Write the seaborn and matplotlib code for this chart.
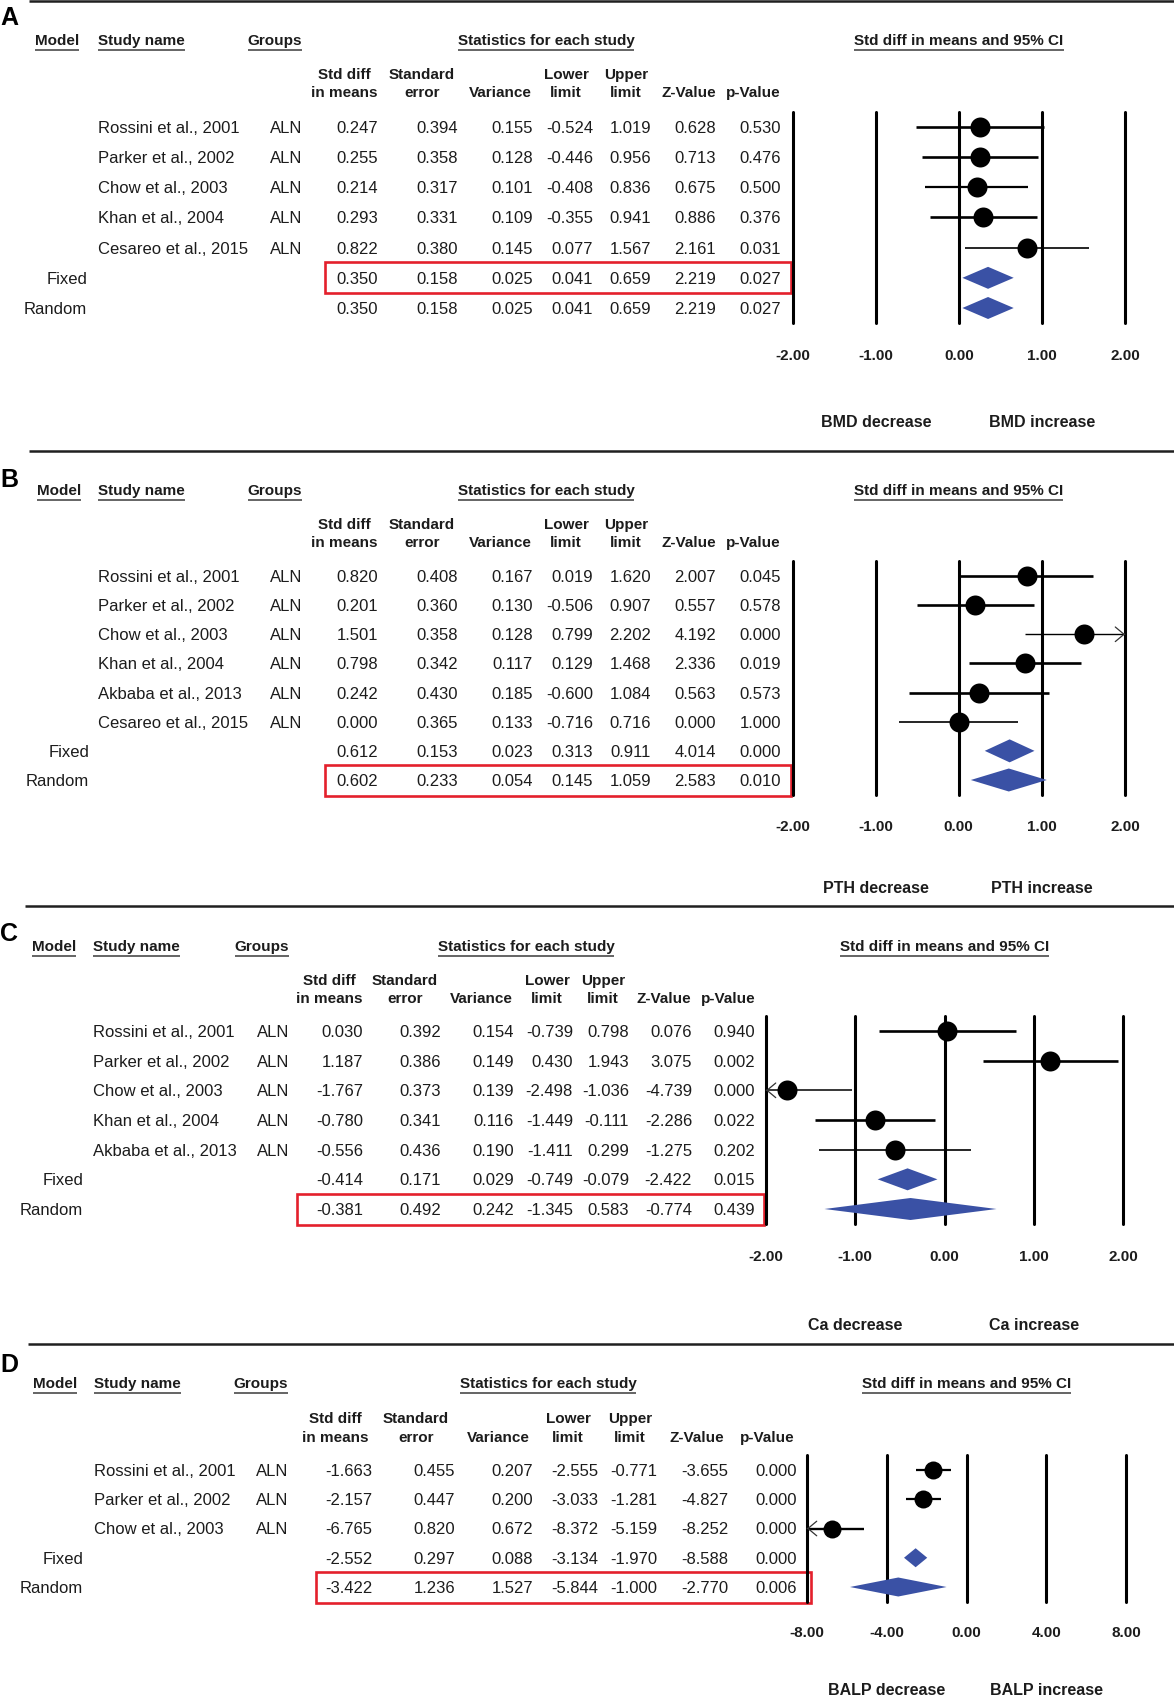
import numpy as np
import pandas as pd
import matplotlib
matplotlib.use("Agg")
import matplotlib.pyplot as plt
import matplotlib.transforms as mtransforms
from matplotlib.patches import Rectangle
import seaborn as sns

# ---------------------------------------------------------------- data
COLUMNS = ["Std diff\nin means", "Standard\nerror", "Variance", "Lower\nlimit",
           "Upper\nlimit", "Z-Value", "p-Value"]
MODELS = ["Fixed", "Random"]

# rows: studies first, then Fixed, Random
A_study = ["Rossini et al., 2001", "Parker et al., 2002", "Chow et al., 2003",
           "Khan et al., 2004", "Cesareo et al., 2015"]
A_group = ["ALN", "ALN", "ALN", "ALN", "ALN"]
A_std_diff = [0.247, 0.255, 0.214, 0.293, 0.822, 0.350, 0.350]
A_std_err = [0.394, 0.358, 0.317, 0.331, 0.380, 0.158, 0.158]
A_variance = [0.155, 0.128, 0.101, 0.109, 0.145, 0.025, 0.025]
A_lower = [-0.524, -0.446, -0.408, -0.355, 0.077, 0.041, 0.041]
A_upper = [1.019, 0.956, 0.836, 0.941, 1.567, 0.659, 0.659]
A_z = [0.628, 0.713, 0.675, 0.886, 2.161, 2.219, 2.219]
A_p = [0.530, 0.476, 0.500, 0.376, 0.031, 0.027, 0.027]
A_ticks = [-2, -1, 0, 1, 2]
A_outcome = "BMD"
A_highlight = "Fixed"

B_study = ["Rossini et al., 2001", "Parker et al., 2002", "Chow et al., 2003",
           "Khan et al., 2004", "Akbaba et al., 2013", "Cesareo et al., 2015"]
B_group = ["ALN", "ALN", "ALN", "ALN", "ALN", "ALN"]
B_std_diff = [0.820, 0.201, 1.501, 0.798, 0.242, 0.000, 0.612, 0.602]
B_std_err = [0.408, 0.360, 0.358, 0.342, 0.430, 0.365, 0.153, 0.233]
B_variance = [0.167, 0.130, 0.128, 0.117, 0.185, 0.133, 0.023, 0.054]
B_lower = [0.019, -0.506, 0.799, 0.129, -0.600, -0.716, 0.313, 0.145]
B_upper = [1.620, 0.907, 2.202, 1.468, 1.084, 0.716, 0.911, 1.059]
B_z = [2.007, 0.557, 4.192, 2.336, 0.563, 0.000, 4.014, 2.583]
B_p = [0.045, 0.578, 0.000, 0.019, 0.573, 1.000, 0.000, 0.010]
B_ticks = [-2, -1, 0, 1, 2]
B_outcome = "PTH"
B_highlight = "Random"

C_study = ["Rossini et al., 2001", "Parker et al., 2002", "Chow et al., 2003",
           "Khan et al., 2004", "Akbaba et al., 2013"]
C_group = ["ALN", "ALN", "ALN", "ALN", "ALN"]
C_std_diff = [0.030, 1.187, -1.767, -0.780, -0.556, -0.414, -0.381]
C_std_err = [0.392, 0.386, 0.373, 0.341, 0.436, 0.171, 0.492]
C_variance = [0.154, 0.149, 0.139, 0.116, 0.190, 0.029, 0.242]
C_lower = [-0.739, 0.430, -2.498, -1.449, -1.411, -0.749, -1.345]
C_upper = [0.798, 1.943, -1.036, -0.111, 0.299, -0.079, 0.583]
C_z = [0.076, 3.075, -4.739, -2.286, -1.275, -2.422, -0.774]
C_p = [0.940, 0.002, 0.000, 0.022, 0.202, 0.015, 0.439]
C_ticks = [-2, -1, 0, 1, 2]
C_outcome = "Ca"
C_highlight = "Random"

D_study = ["Rossini et al., 2001", "Parker et al., 2002", "Chow et al., 2003"]
D_group = ["ALN", "ALN", "ALN"]
D_std_diff = [-1.663, -2.157, -6.765, -2.552, -3.422]
D_std_err = [0.455, 0.447, 0.820, 0.297, 1.236]
D_variance = [0.207, 0.200, 0.672, 0.088, 1.527]
D_lower = [-2.555, -3.033, -8.372, -3.134, -5.844]
D_upper = [-0.771, -1.281, -5.159, -1.970, -1.000]
D_z = [-3.655, -4.827, -8.252, -8.588, -2.770]
D_p = [0.000, 0.000, 0.000, 0.000, 0.006]
D_ticks = [-8, -4, 0, 4, 8]
D_outcome = "BALP"
D_highlight = "Random"

PANELS = {
    "A": dict(study=A_study, group=A_group, cols=[A_std_diff, A_std_err, A_variance, A_lower, A_upper, A_z, A_p],
              ticks=A_ticks, outcome=A_outcome, highlight=A_highlight),
    "B": dict(study=B_study, group=B_group, cols=[B_std_diff, B_std_err, B_variance, B_lower, B_upper, B_z, B_p],
              ticks=B_ticks, outcome=B_outcome, highlight=B_highlight),
    "C": dict(study=C_study, group=C_group, cols=[C_std_diff, C_std_err, C_variance, C_lower, C_upper, C_z, C_p],
              ticks=C_ticks, outcome=C_outcome, highlight=C_highlight),
    "D": dict(study=D_study, group=D_group, cols=[D_std_diff, D_std_err, D_variance, D_lower, D_upper, D_z, D_p],
              ticks=D_ticks, outcome=D_outcome, highlight=D_highlight),
}

# ---------------------------------------------------------------- layout (pixels) & style
AB_right = [378, 458, 533, 593, 651, 716, 781]
AB_head = [344, 422, 500, 566, 626, 689, 753]
LAYOUT = {
    "A": dict(sep=1.3, sep_x=29, letter=16, head=40, coly=(74, 92), row0=127, rowN=308,
              fx=(793, 1125), model=57, studyx=98, groupx=302, stats=546, sumx=87,
              right=AB_right, hcent=AB_head, box=(325, 791), ticky=354, outy=421,
              ci_lw=[1.9, 1.9, 1.6, 1.9, 1.2], dot=20, dia=11),
    "B": dict(sep=450.7, sep_x=29, letter=478, head=490, coly=(524, 542), row0=576, rowN=780,
              fx=(792.5, 1125), model=59, studyx=98, groupx=302, stats=546, sumx=89,
              right=AB_right, hcent=AB_head, box=(325, 791), ticky=825, outy=887,
              ci_lw=[1.9, 1.9, 1.0, 1.9, 1.9, 1.2], dot=20, dia=11.5),
    "C": dict(sep=906, sep_x=25, letter=932, head=946, coly=(980, 998), row0=1031, rowN=1209,
              fx=(766, 1123), model=54, studyx=93, groupx=289, stats=526, sumx=83,
              right=[363, 441, 514, 573, 629, 692, 755], hcent=[329, 405, 481, 547, 603, 664, 728],
              box=(297, 764), ticky=1255, outy=1324,
              ci_lw=[1.9, 1.9, 1.1, 1.9, 1.2], dot=20, dia=11),
    "D": dict(sep=1343.7, sep_x=28, letter=1363, head=1383, coly=(1418, 1437), row0=1470, rowN=1587,
              fx=(807, 1126), model=55, studyx=94, groupx=288, stats=548, sumx=83,
              right=[372, 455, 533, 598, 657, 728, 797], hcent=[335, 416, 498, 568, 630, 697, 767],
              box=(316, 811), ticky=1631, outy=1689,
              ci_lw=[1.6, 1.6, 1.7], dot=18, dia=9.5),
}

TXT = "#1c1c1c"
BLUE = "#3a51a5"
RED = "#e4202c"

sns.set_theme(style="white")
plt.rcParams["font.family"] = ["Liberation Sans", "DejaVu Sans"]

W, H = 1174, 1696
fig = plt.figure(figsize=(W / 100, H / 100), dpi=100)
fig.patch.set_facecolor("white")
tab = fig.add_axes([0, 0, 1, 1])
tab.set_xlim(0, W)
tab.set_ylim(H, 0)
tab.axis("off")
tab.patch.set_alpha(0)


def pxs(pt):
    return pt * 100 / 72


def txt(x, yc, s, size=12, weight="normal", ha="left", color=TXT, transform=None):
    yb = yc + 0.358 * pxs(size)
    kw = {}
    if transform is not None:
        kw["transform"] = transform
    return tab.text(x, yb, s, fontsize=size, fontweight=weight, ha=ha, va="baseline",
                    color=color, **kw)


underlined = []

for key, P in PANELS.items():
    L = LAYOUT[key]
    n_st = len(P["study"])
    n = n_st + len(MODELS)
    ys = np.linspace(L["row0"], L["rowN"], n)
    sp = (L["rowN"] - L["row0"]) / (n - 1)

    # separator + letter
    tab.plot([L["sep_x"], W], [L["sep"], L["sep"]], color="#202020", lw=1.8, solid_capstyle="butt")
    txt(0, L["letter"], key, size=18, weight="bold", color="black")

    # headers
    underlined.append(txt(L["model"], L["head"], "Model", 11, "bold", "center"))
    underlined.append(txt(L["studyx"], L["head"], "Study name", 11, "bold", "left"))
    underlined.append(txt(L["groupx"], L["head"], "Groups", 11, "bold", "right"))
    underlined.append(txt(L["stats"], L["head"], "Statistics for each study", 11, "bold", "center"))
    for c, name in enumerate(COLUMNS):
        parts = name.split("\n")
        if len(parts) == 2:
            txt(L["hcent"][c], L["coly"][0], parts[0], 11, "bold", "center")
            txt(L["hcent"][c], L["coly"][1], parts[1], 11, "bold", "center")
        else:
            txt(L["hcent"][c], L["coly"][1], parts[0], 11, "bold", "center")

    # table rows
    for i in range(n):
        if i < n_st:
            txt(L["studyx"], ys[i], P["study"][i], 12, "normal", "left")
            txt(L["groupx"], ys[i], P["group"][i], 12, "normal", "right")
        else:
            txt(L["sumx"], ys[i], MODELS[i - n_st], 12, "normal", "right")
        for c in range(len(COLUMNS)):
            txt(L["right"][c], ys[i], f"{P['cols'][c][i]:.3f}", 12, "normal", "right")

    # highlight box
    k = n_st + MODELS.index(P["highlight"])
    bx0, bx1 = L["box"]
    tab.add_patch(Rectangle((bx0, ys[k] - 15.5), bx1 - bx0, 31, fill=False, ec=RED, lw=1.9))

    # forest axes
    top = L["row0"] - sp / 2
    bot = L["rowN"] + sp / 2
    x0, x1 = L["fx"]
    ax = fig.add_axes([x0 / W, 1 - bot / H, (x1 - x0) / W, (bot - top) / H])
    ax.patch.set_alpha(0)
    est = P["cols"][0]
    lower = P["cols"][3]
    upper = P["cols"][4]
    df = pd.DataFrame({"est": est[:n_st], "row": np.arange(n_st)})
    sns.scatterplot(data=df, x="est", y="row", ax=ax, s=(L["dot"] * 0.72) ** 2, color="black",
                    linewidth=0, legend=False, zorder=5, clip_on=False)
    ticks = P["ticks"]
    ax.set_xlim(ticks[0], ticks[-1])
    ax.set_ylim(n - 0.5, -0.5)
    lo_b, hi_b = ticks[0], ticks[-1]
    for t in ticks:
        ax.axvline(t, color="black", lw=2.2, zorder=2, clip_on=False)
    for i in range(n_st):
        a = max(lower[i], lo_b)
        b = min(upper[i], hi_b)
        ax.hlines(i, a, b, color="black", lw=L["ci_lw"][i], zorder=4, clip_on=False)
        eps = (hi_b - lo_b) * 0.002
        if lower[i] < lo_b:
            ax.annotate("", xy=(lo_b, i), xytext=(lo_b + eps, i),
                        arrowprops=dict(arrowstyle="->,head_length=0.9,head_width=0.75",
                                        mutation_scale=7, lw=0.9, color="#333333",
                                        shrinkA=0, shrinkB=0), zorder=4)
        if upper[i] > hi_b:
            ax.annotate("", xy=(hi_b, i), xytext=(hi_b - eps, i),
                        arrowprops=dict(arrowstyle="->,head_length=0.9,head_width=0.75",
                                        mutation_scale=7, lw=0.9, color="#333333",
                                        shrinkA=0, shrinkB=0), zorder=4)
    h = L["dia"] / sp
    for j in range(len(MODELS)):
        r = n_st + j
        ax.fill([lower[r], est[r], upper[r], est[r]], [r, r - h, r, r + h],
                color=BLUE, lw=0, zorder=4, clip_on=False)
    for s in ax.spines.values():
        s.set_visible(False)
    ax.set_xlabel("")
    ax.set_ylabel("")
    ax.set_yticks([])
    ax.set_xticks(ticks)
    ax.set_xticklabels([f"{t:.2f}" for t in ticks], fontsize=11, fontweight="bold", color=TXT)
    pad_pt = (L["ticky"] - bot - 0.358 * pxs(11)) * 72 / 100
    ax.tick_params(axis="x", length=0, pad=pad_pt)
    ax.grid(False)

    # header above forest + outcome labels
    bt = mtransforms.blended_transform_factory(ax.transData, tab.transData)
    underlined.append(txt(0, L["head"], "Std diff in means and 95% CI", 11, "bold", "center",
                          transform=bt))
    txt(ticks[1], L["outy"], f"{P['outcome']} decrease", 11.5, "bold", "center", transform=bt)
    txt(ticks[3], L["outy"], f"{P['outcome']} increase", 11.5, "bold", "center", transform=bt)

# underlines for header texts
fig.canvas.draw()
renderer = fig.canvas.get_renderer()
inv = tab.transData.inverted()
for t in underlined:
    bb = t.get_window_extent(renderer)
    xa, _ = inv.transform((bb.x0, 0))
    xb, _ = inv.transform((bb.x1, 0))
    _, yb = inv.transform(t.get_transform().transform(t.get_position()))
    tab.plot([xa, xb], [yb + 4.5, yb + 4.5], color="#3a3a3a", lw=1.1, solid_capstyle="butt")

fig.savefig("out.png", dpi=100)
